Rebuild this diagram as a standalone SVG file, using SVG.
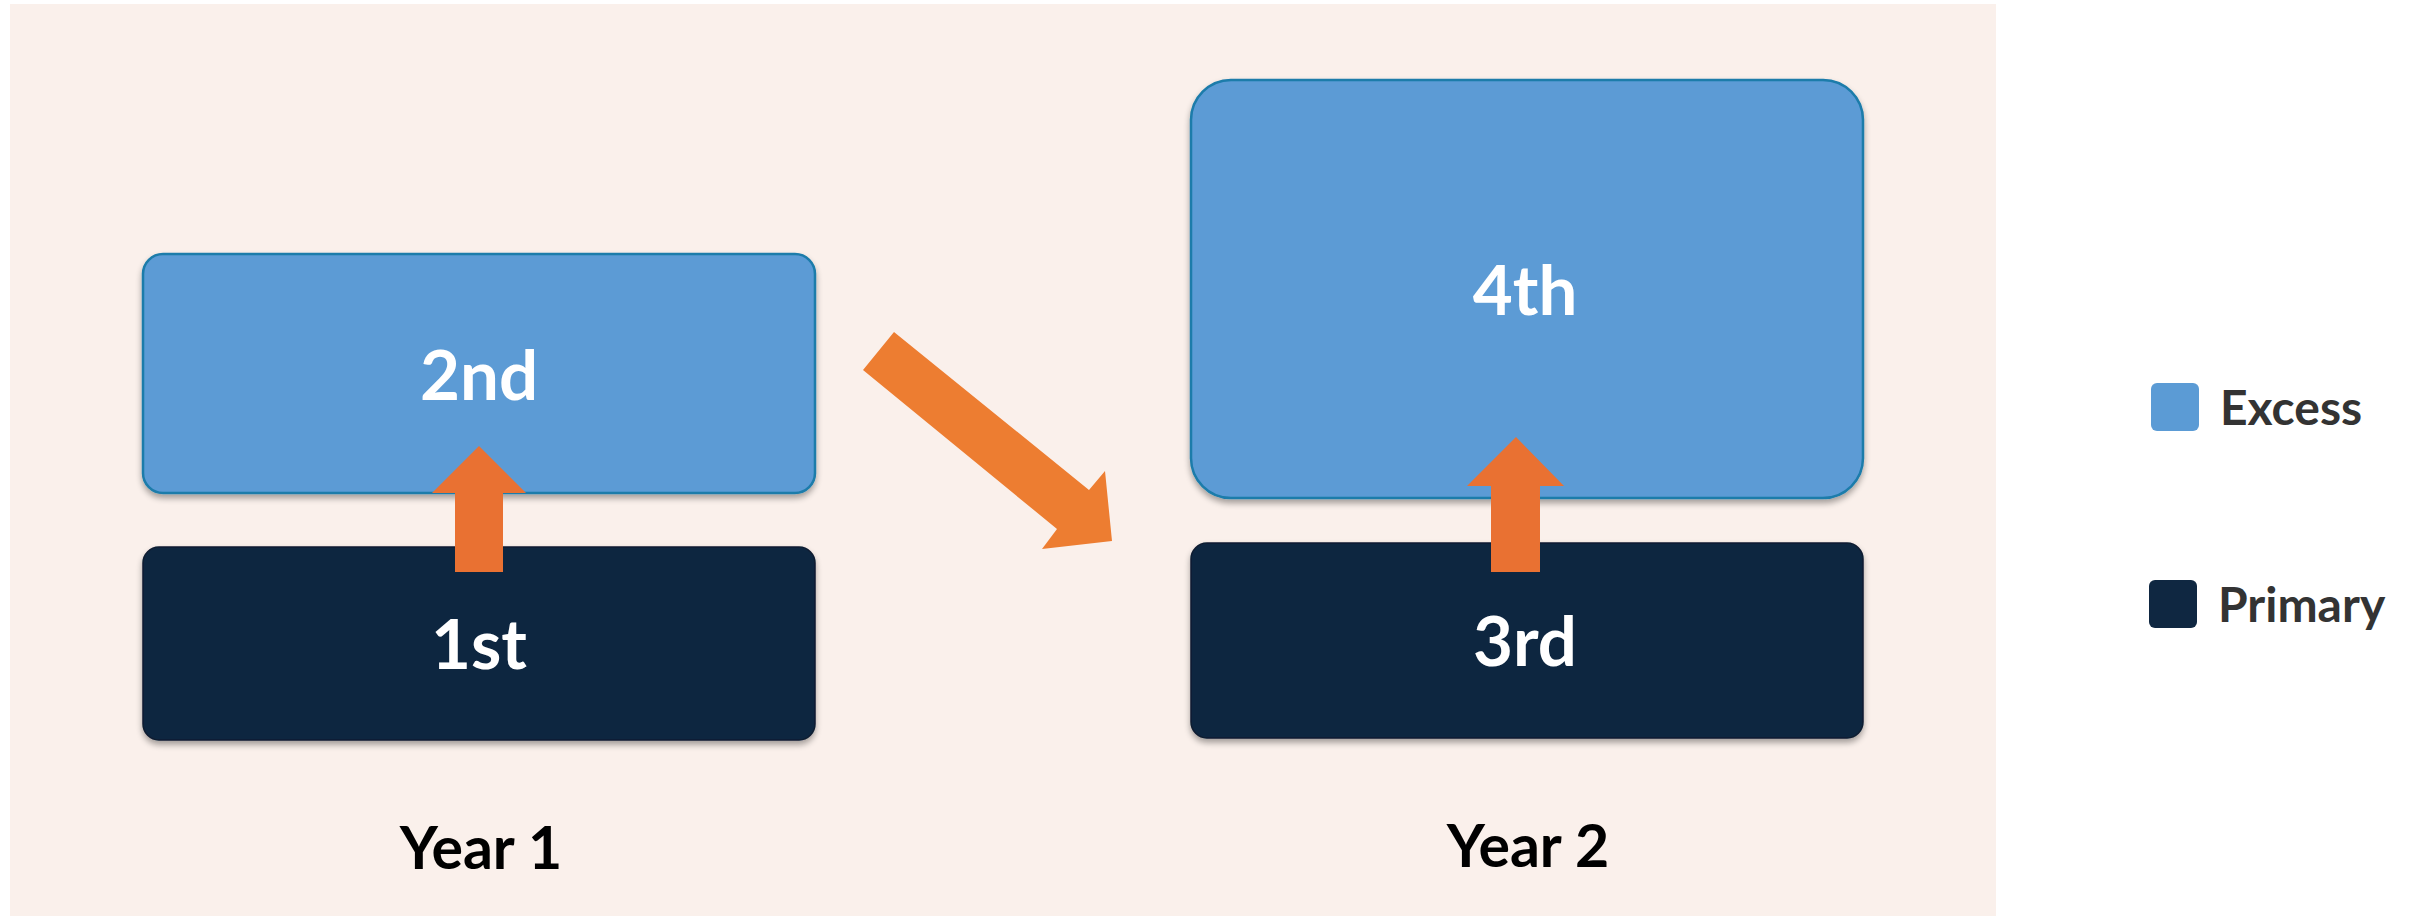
<svg xmlns="http://www.w3.org/2000/svg" width="2417" height="920" viewBox="0 0 2417 920">
  <defs>
    <filter id="shadow" x="-5%" y="-10%" width="110%" height="130%">
      <feGaussianBlur in="SourceAlpha" stdDeviation="3"/>
      <feOffset dx="0" dy="4" result="b"/>
      <feComponentTransfer><feFuncA type="linear" slope="0.35"/></feComponentTransfer>
      <feMerge><feMergeNode/><feMergeNode in="SourceGraphic"/></feMerge>
    </filter>
  </defs>
  <style>
    .excess { fill: #5B9BD5; stroke: #1B7BAA; stroke-width: 2.5; }
    .primary { fill: #0F2741; stroke: #0A1C30; stroke-width: 1.5; }
    .label { font-family: Lato, "Open Sans", sans-serif; font-weight: bold; fill: #FFFFFF; font-size: 69px; text-anchor: middle; }
    .year { font-family: Lato, "Open Sans", sans-serif; font-weight: bold; fill: #000000; font-size: 59px; text-anchor: middle; }
    .legend { font-family: Lato, "Open Sans", sans-serif; font-weight: bold; fill: #333333; font-size: 48px; }
    .up { fill: #E97132; }
    .flow { fill: #ED7D31; }
  </style>

  <rect x="0" y="0" width="2417" height="920" fill="#FFFFFF"/>
  <rect x="10" y="4" width="1986" height="912" fill="#FAF0EB"/>

  <g id="node-2nd">
    <rect class="excess" x="143" y="254" width="672" height="239" rx="20" filter="url(#shadow)"/>
    <text class="label" x="479" y="400">2nd</text>
  </g>
  <g id="node-1st">
    <rect class="primary" x="143" y="547" width="672" height="193" rx="16" filter="url(#shadow)"/>
    <text class="label" x="479" y="669">1st</text>
  </g>
  <g id="node-4th">
    <rect class="excess" x="1191" y="80" width="672" height="418" rx="40" filter="url(#shadow)"/>
    <text class="label" x="1525" y="315">4th</text>
  </g>
  <g id="node-3rd">
    <rect class="primary" x="1191" y="543" width="672" height="195" rx="16" filter="url(#shadow)"/>
    <text class="label" x="1525" y="666">3rd</text>
  </g>

  <g id="connectors">
    <polygon class="up" points="479,446 526,493 503,493 503,572 455,572 455,493 432,493"/>
    <polygon class="up" points="1516,437 1564,486 1540,486 1540,572 1491,572 1491,486 1467,486"/>
    <polygon class="flow" points="894,332 1089,490 1105,471 1112,541 1042,549 1057,529 863,370"/>
  </g>

  <g id="year-labels">
    <text class="year" x="481" y="869">Year 1</text>
    <text class="year" x="1528" y="867">Year 2</text>
  </g>

  <g id="legend">
    <g id="legend-excess">
      <rect x="2151" y="383" width="48" height="48" rx="6" fill="#5B9BD5"/>
      <text class="legend" x="2220" y="425">Excess</text>
    </g>
    <g id="legend-primary">
      <rect x="2149" y="580" width="48" height="48" rx="6" fill="#0F2741"/>
      <text class="legend" x="2218" y="622">Primary</text>
    </g>
  </g>
</svg>
